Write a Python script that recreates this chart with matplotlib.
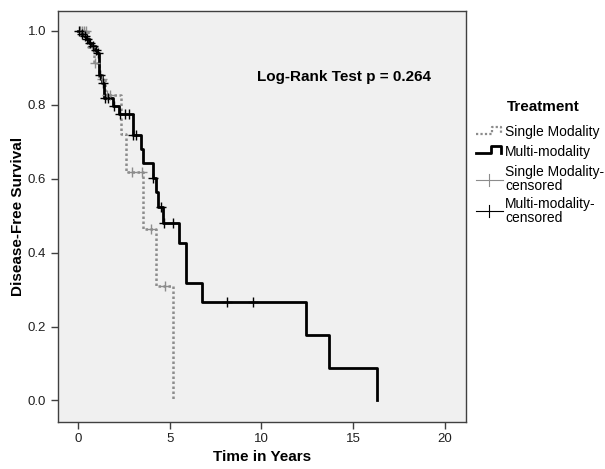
import numpy as np
import matplotlib
matplotlib.use("Agg")
import matplotlib.pyplot as plt
from matplotlib.lines import Line2D

plt.rcParams['font.family'] = ['Liberation Sans', 'DejaVu Sans']

# ---------- Data ----------
single_times = [0.55, 0.85, 1.15, 1.45, 2.34, 2.6, 3.56, 4.25, 5.16]
single_surv = [0.956, 0.913, 0.87, 0.826, 0.72, 0.619, 0.465, 0.31, 0.0]
single_censored = [0.12, 0.22, 0.32, 0.42, 0.8, 0.92, 1.3, 1.6, 1.74, 2.93, 3.47, 4.0, 4.74]

multi_times = [0.15, 0.3, 0.45, 0.6, 0.75, 0.9, 1.05, 1.16, 1.29, 1.43, 1.9, 2.23,
               2.98, 3.43, 3.56, 4.07, 4.23, 4.38, 4.65, 5.5, 5.87, 6.78,
               12.41, 13.7, 16.28]
multi_surv = [0.993, 0.985, 0.977, 0.968, 0.958, 0.948, 0.94, 0.881, 0.858, 0.819,
              0.797, 0.775, 0.718, 0.680, 0.643, 0.603, 0.565, 0.523, 0.480,
              0.425, 0.319, 0.266, 0.176, 0.089, 0.0]
multi_censored = [0.08, 0.2, 0.38, 0.5, 0.68, 0.82, 0.97, 1.1, 1.2, 1.35, 1.47, 1.65,
                  1.96, 2.29, 2.56, 2.78, 3.0, 3.16, 4.07, 4.5, 4.69, 5.19, 8.1, 9.52]

x_ticks = [0, 5, 10, 15, 20]
y_ticks = [0.0, 0.2, 0.4, 0.6, 0.8, 1.0]
p_value = 0.264

W, H = 605, 469


def surv_at(times, surv, t):
    s = 1.0
    for ti, si in zip(times, surv):
        if ti <= t:
            s = si
    return s


def fx(px):
    return px / W


def fy(py):
    return 1 - py / H


fig = plt.figure(figsize=(W / 100, H / 100), dpi=100)
fig.patch.set_facecolor('white')
ax = fig.add_axes([fx(58), fy(421.5), fx(465.7) - fx(58), fy(11) - fy(421.5)])
ax.set_facecolor('#f0f0f0')

gray = '#8c8c8c'
# single modality (dotted gray)
ax.step([0] + single_times, [1.0] + single_surv, where='post',
        color=gray, lw=1.8, linestyle=(0, (1, 1)), zorder=2)
# multi-modality (solid black)
ax.step([0] + multi_times, [1.0] + multi_surv, where='post',
        color='black', lw=2.0, zorder=3)

# censored marks
ax.plot(single_censored, [surv_at(single_times, single_surv, t) for t in single_censored],
        linestyle='none', marker='+', color=gray, ms=7, mew=1.0, zorder=4)
ax.plot(multi_censored, [surv_at(multi_times, multi_surv, t) for t in multi_censored],
        linestyle='none', marker='+', color='black', ms=7, mew=1.0, zorder=5)

ax.text(14.5, 0.875, f"Log-Rank Test p = {p_value}", ha='center', va='center',
        fontsize=11, fontweight='bold')

ax.set_xlim(-1.09, 21.13)
ax.set_ylim(-0.057, 1.054)
ax.set_xticks(x_ticks)
ax.set_yticks(y_ticks)
ax.set_yticklabels([f"{v:.1f}" for v in y_ticks])
ax.tick_params(direction='out', length=5, width=1, colors='#404040', labelsize=9.5,
               labelcolor='#202020')
for sp in ax.spines.values():
    sp.set_color('#404040')
    sp.set_linewidth(1.0)

# axis titles placed in figure pixels
fig.text(fx(262), fy(457), "Time in Years", ha='center', va='center',
         fontsize=11, fontweight='bold')
fig.text(fx(18), fy(216), "Disease-Free Survival", ha='center', va='center',
         rotation=90, fontsize=11, fontweight='bold')

# ---------- Legend drawn by hand (step-shaped handles) ----------
fig.text(fx(543), fy(107), "Treatment", ha='center', va='center',
         fontsize=11, fontweight='bold')


def fig_line(xs, ys, **kw):
    fig.add_artist(Line2D([fx(v) for v in xs], [fy(v) for v in ys],
                          transform=fig.transFigure, **kw))


fig_line([476, 492, 492, 501, 501], [134, 134, 127, 127, 134],
         color=gray, lw=1.6, linestyle=(0, (1, 1)))
fig_line([476, 491, 491, 501, 501], [153, 153, 146, 146, 153],
         color='black', lw=2.0)
fig_line([476, 503], [180, 180], color=gray, lw=0.8)
fig_line([489, 489], [174, 186], color=gray, lw=0.8)
fig_line([476, 503], [211, 211], color='black', lw=0.8)
fig_line([489, 489], [205, 217], color='black', lw=0.8)

leg_labels = ["Single Modality", "Multi-modality",
              "Single Modality-\ncensored", "Multi-modality-\ncensored"]
leg_y = [132, 152, 179, 211]
for lab, yy in zip(leg_labels, leg_y):
    fig.text(fx(505), fy(yy), lab, ha='left', va='center', fontsize=10,
             linespacing=0.95)

fig.savefig("out.png", dpi=100)
